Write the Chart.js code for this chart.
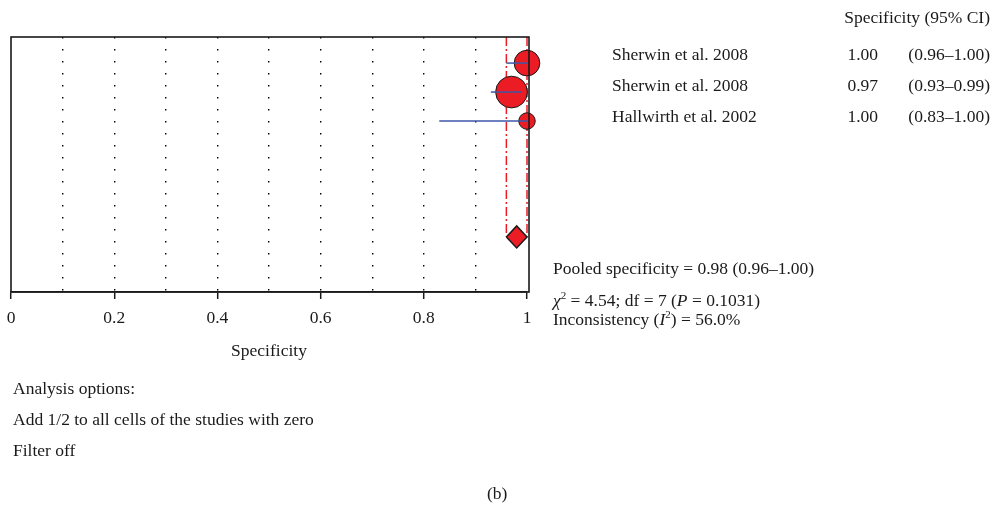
<!DOCTYPE html>
<html>
<head>
<meta charset="utf-8">
<script src="https://cdn.jsdelivr.net/npm/chart.js@4.4.1/dist/chart.umd.min.js"></script>
<style>
  body { margin: 0; background: #fff; }
  #wrap { position: relative; width: 994px; height: 506px; font-family: "Liberation Serif", "DejaVu Serif", serif; color: #1a1a1a; }
  #chart { position: absolute; left: 0; top: 0; }
  .t { position: absolute; font-size: 17.5px; line-height: 18px; white-space: nowrap; }
  .r { text-align: right; }
  sup { font-size: 11px; line-height: 0; }
</style>
</head>
<body>
<div id="wrap">
  <canvas id="chart" width="994" height="506"></canvas>
</div>
<script>
// study data
const studies = ['Sherwin et al. 2008', 'Sherwin et al. 2008', 'Hallwirth et al. 2002'];
const specificity = [1.00, 0.97, 1.00];
const ciLow = [0.96, 0.93, 0.83];
const ciHigh = [1.00, 0.99, 1.00];
const weights = [34, 52, 14];

const pooled = 0.98;
const pooledLow = 0.96;
const pooledHigh = 1.00;

const xTickLabels = [0, 0.2, 0.4, 0.6, 0.8, 1];

const stats = {
  chi2: '4.54', df: '7', p: '0.1031', i2: '56.0%'
};

// rows on the y axis: studies 1..3, pooled at 7
const pooledRow = 7;

const red = '#ec1c24';
const blue = '#3b57a7';
const ink = '#1a1a1a';
const font = { family: '"Liberation Serif", "DejaVu Serif", serif', size: 17.5 };

// text on the right side
const wrap = document.getElementById('wrap');
function addText(txt, x, y, cls) {
  const d = document.createElement('div');
  d.className = 't' + (cls ? ' ' + cls : '');
  d.innerHTML = txt;
  d.style.top = y + 'px';
  if (cls === 'r') { d.style.right = (994 - x) + 'px'; } else { d.style.left = x + 'px'; }
  wrap.appendChild(d);
}

addText('Specificity (95% CI)', 990, 8, 'r');
const rowTops = [45, 76, 107];
studies.forEach((name, i) => {
  const y = rowTops[i];
  addText(name, 612, y);
  addText(specificity[i].toFixed(2), 878, y, 'r');
  addText('(' + ciLow[i].toFixed(2) + '–' + ciHigh[i].toFixed(2) + ')', 990, y, 'r');
});
addText('Pooled specificity = ' + pooled.toFixed(2) + ' (' + pooledLow.toFixed(2) + '–' + pooledHigh.toFixed(2) + ')', 553, 259);
addText('<i>χ</i><sup>2</sup> = ' + stats.chi2 + '; df = ' + stats.df + ' (<i>P</i> = ' + stats.p + ')', 553, 291);
addText('Inconsistency (<i>I</i><sup>2</sup>) = ' + stats.i2, 553, 310);
addText('Analysis options:', 13, 379);
addText('Add 1/2 to all cells of the studies with zero', 13, 410);
addText('Filter off', 13, 441);
addText('(b)', 497 - 10, 484);

// frame around the plot area (right edge sits a hair outside x = 1)
const framePlugin = {
  id: 'frame',
  afterDatasetsDraw(chart) {
    const a = chart.chartArea;
    const ctx = chart.ctx;
    ctx.save();
    ctx.strokeStyle = ink;
    ctx.lineWidth = 1.6;
    ctx.strokeRect(a.left, a.top, a.right + 2 - a.left, a.bottom - a.top);
    ctx.restore();
  }
};

const datasets = [];

// CI lines (drawn on top)
studies.forEach((name, i) => {
  datasets.push({
    label: name + ' CI',
    data: [{ x: ciLow[i], y: i + 1 }, { x: ciHigh[i], y: i + 1 }],
    showLine: true,
    borderColor: blue,
    borderWidth: 1.5,
    pointRadius: 0,
    clip: false
  });
});

// study points, size by weight
datasets.push({
  label: 'studies',
  data: specificity.map((v, i) => ({ x: v, y: i + 1 })),
  backgroundColor: red,
  borderColor: ink,
  borderWidth: 1,
  pointRadius: ctx => 2.2 * Math.sqrt(weights[ctx.dataIndex]),
  clip: false
});

// pooled diamond
datasets.push({
  label: 'pooled',
  data: [
    { x: pooledLow, y: pooledRow },
    { x: pooled, y: pooledRow - 0.38 },
    { x: pooledHigh, y: pooledRow },
    { x: pooled, y: pooledRow + 0.38 },
    { x: pooledLow, y: pooledRow }
  ],
  showLine: true,
  fill: 'shape',
  backgroundColor: red,
  borderColor: ink,
  borderWidth: 1.5,
  pointRadius: 0,
  tension: 0,
  clip: false
});

// pooled CI guides
[pooledLow, pooledHigh].forEach(v => {
  datasets.push({
    label: 'guide',
    data: [{ x: v, y: 0.1 }, { x: v, y: pooledRow }],
    showLine: true,
    borderColor: red,
    borderWidth: 1.5,
    borderDash: [9, 3, 2, 3],
    pointRadius: 0,
    clip: false
  });
});

new Chart(document.getElementById('chart'), {
  type: 'scatter',
  data: { datasets: datasets },
  options: {
    responsive: false,
    animation: false,
    devicePixelRatio: 1,
    layout: { autoPadding: false, padding: { left: 11, right: 467, top: 37, bottom: 144 } },
    plugins: { legend: { display: false }, tooltip: { enabled: false } },
    scales: {
      x: {
        type: 'linear',
        min: 0,
        max: 1,
        ticks: {
          stepSize: 0.1,
          autoSkip: false,
          maxRotation: 0,
          padding: 9,
          color: ink,
          font: font,
          callback: v => {
            const r = Math.round(v * 10) / 10;
            return xTickLabels.includes(r) ? String(r) : '';
          }
        },
        grid: {
          color: c => (c.tick && c.tick.value > 0.01 && c.tick.value < 0.99) ? '#000' : 'transparent',
          lineWidth: 1.4,
          tickLength: 7,
          tickWidth: 1.5,
          tickColor: c => {
            const r = Math.round(c.tick.value * 10);
            return r % 2 === 0 ? ink : 'transparent';
          }
        },
        border: { color: ink, width: 1.6, dash: [1.5, 10.5] },
        title: { display: true, text: 'Specificity', color: ink, font: font, padding: { top: 4, bottom: 0 } },
        afterFit: s => {
          s.height = 70;
          s.paddingLeft = 0;
          s.paddingRight = 0;
        }
      },
      y: {
        type: 'linear',
        display: false,
        min: 0.1,
        max: 8.9,
        reverse: true
      }
    }
  },
  plugins: [framePlugin]
});
</script>
</body>
</html>
